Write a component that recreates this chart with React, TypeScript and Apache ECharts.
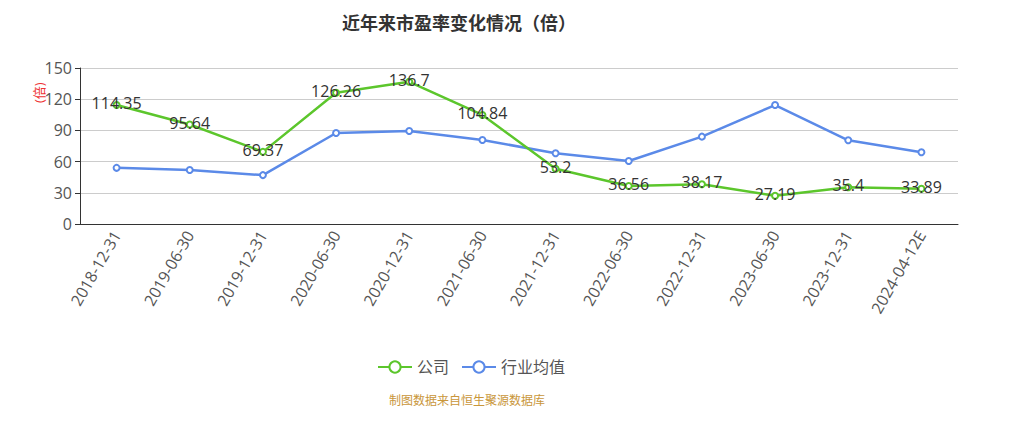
import React, { useEffect, useRef } from "react";
import * as echarts from "echarts";

const categories = [
  "2018-12-31", "2019-06-30", "2019-12-31", "2020-06-30", "2020-12-31", "2021-06-30",
  "2021-12-31", "2022-06-30", "2022-12-31", "2023-06-30", "2023-12-31", "2024-04-12E",
];
const companyPE = [114.35, 95.64, 69.37, 126.26, 136.7, 104.84, 53.2, 36.56, 38.17, 27.19, 35.4, 33.89];
const industryPE = [54, 52, 47, 87.5, 89.4, 80.8, 68, 60.6, 84, 114.4, 80.5, 69];
const yTicks = { min: 0, max: 150, interval: 30 };

const FONT = "'Open Sans', 'Noto Sans CJK SC', sans-serif";

export default function App() {
  const ref = useRef<HTMLDivElement>(null);
  useEffect(() => {
    if (!ref.current) return;
    const chart = echarts.init(ref.current, null, { renderer: "svg" });
    chart.setOption({
      animation: false,
      textStyle: { fontFamily: FONT },
      title: {
        text: "近年来市盈率变化情况（倍）",
        left: 337,
        top: 9,
        textStyle: { fontSize: 18, fontWeight: "bold", color: "#333", fontFamily: FONT },
      },
      legend: {
        data: ["公司", "行业均值"],
        top: 354,
        left: 372,
        itemWidth: 34,
        itemHeight: 14,
        itemGap: 12,
        textStyle: { fontSize: 16, color: "#555", fontFamily: FONT },
      },
      grid: { left: 80, right: 73, top: 68, bottom: 197 },
      xAxis: {
        type: "category",
        data: categories,
        boundaryGap: true,
        axisLine: { lineStyle: { color: "#333" } },
        axisTick: { lineStyle: { color: "#333" } },
        axisLabel: { rotate: 60, fontSize: 16, color: "#555", margin: 8, fontFamily: FONT },
      },
      yAxis: {
        type: "value",
        min: yTicks.min,
        max: yTicks.max,
        interval: yTicks.interval,
        axisLine: { show: true, lineStyle: { color: "#333" } },
        axisTick: { show: true, lineStyle: { color: "#333" } },
        axisLabel: { fontSize: 16, color: "#555", fontFamily: FONT },
        splitLine: { lineStyle: { color: "#ccc" } },
      },
      graphic: [
        {
          type: "text",
          x: 32,
          y: 103,
          rotation: Math.PI / 2,
          style: { text: "(倍)", fill: "#e33", fontSize: 13, fontFamily: FONT },
        },
        {
          type: "text",
          x: 467,
          y: 394,
          style: { text: "制图数据来自恒生聚源数据库", fill: "#c9963a", fontSize: 12, textAlign: "center", fontFamily: FONT },
        },
      ],
      series: [
        {
          name: "公司",
          type: "line",
          data: companyPE,
          symbol: "emptyCircle",
          symbolSize: 6,
          itemStyle: { color: "#5cc62c" },
          lineStyle: { width: 2.5, color: "#5cc62c" },
          label: { show: true, position: "inside", fontSize: 16, color: "#333", offset: [0, -2], fontFamily: FONT },
          z: 3,
        },
        {
          name: "行业均值",
          type: "line",
          data: industryPE,
          symbol: "emptyCircle",
          symbolSize: 6,
          itemStyle: { color: "#5b8ae8" },
          lineStyle: { width: 2.5, color: "#5b8ae8" },
          z: 2,
        },
      ],
    });
    return () => chart.dispose();
  }, []);
  return (
    <div
      ref={ref}
      style={{ position: "fixed", left: 0, top: 0, width: 1031, height: 421, background: "#fff" }}
    />
  );
}
